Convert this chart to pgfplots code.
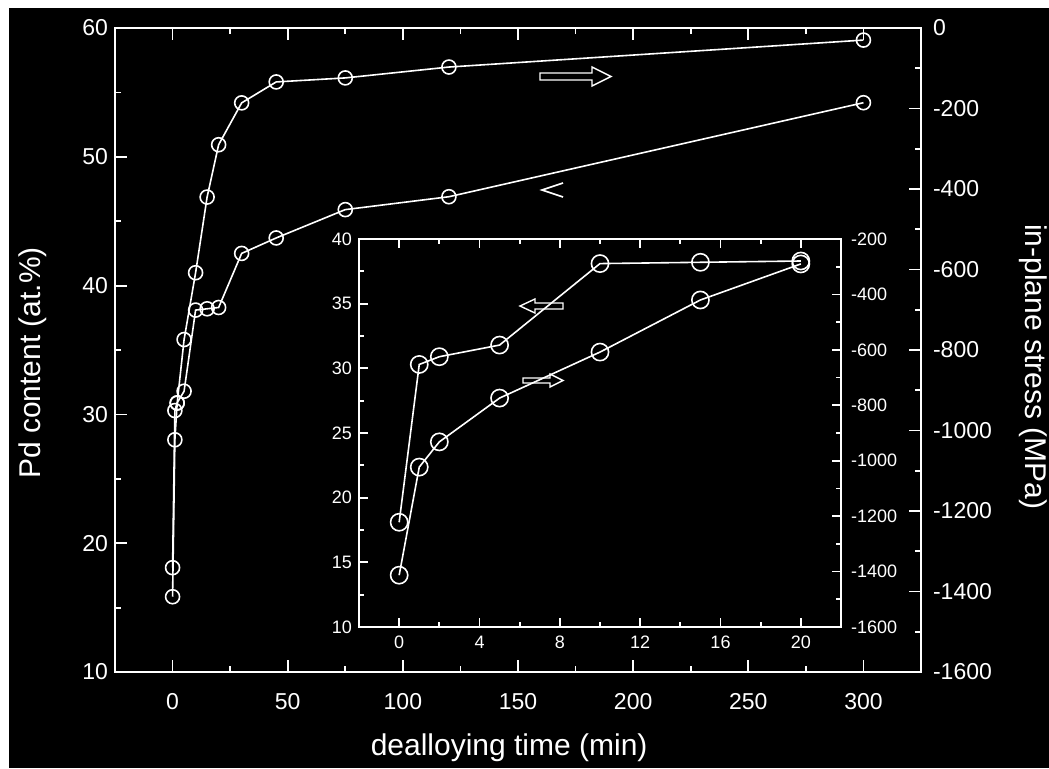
\documentclass[border=0pt]{standalone}
\usepackage{fontspec}
\setmainfont{Liberation Sans}
\usepackage{pgfplots}
\usepackage{pgfplotstable}
\pgfplotsset{compat=1.18}

\pgfplotstableread{
t pd s
0 18.1 -1413
1 30.3 -1023
2 30.9 -932
5 31.8 -774
10 38.1 -608
15 38.2 -420
20 38.3 -290
30 42.5 -186
45 43.7 -134
75 45.9 -124
120 46.9 -97
300 54.2 -30
}\maindata

\pgfplotstableread{
t pd s
0 18.1 -1413
1 30.3 -1023
2 30.9 -932
5 31.8 -774
10 38.1 -608
15 38.2 -420
20 38.3 -290
}\insetdata

\pgfplotsset{
  base/.style={
    scale only axis,
    axis line style={white, line width=1.3pt},
    tick style={white, line width=0.9pt},
    tick align=inside,
    every tick label/.append style={text=white},
    every axis label/.append style={text=white},
    /pgf/number format/assume math mode=true,
    /pgf/number format/1000 sep={},
  },
  ser/.style={white, line width=0.8pt, mark=o, mark options={solid, fill=black, line width=0.8pt}},
}

\begin{document}
\begin{tikzpicture}
\path[use as bounding box] (0,0) rectangle (524.5pt,384pt);
\fill[white] (0,0) rectangle (524.5pt,384pt);
\fill[black] (4.5pt,0) rectangle (524.5pt,380pt);

% main axis, left y
\begin{axis}[base,
  at={(57.5pt,48pt)}, anchor=south west,
  width=403pt, height=322pt,
  xmin=-25, xmax=325, ymin=10, ymax=60,
  xtick={0,50,...,300}, minor x tick num=1,
  ytick={10,20,...,60}, minor y tick num=1,
  xtick pos=both, ytick pos=left,
  major tick length=6pt, minor tick length=3pt,
  tick label style={font=\fontsize{11.5}{13}\selectfont},
  label style={font=\fontsize{15}{17}\selectfont},
  xticklabel shift=7pt,
  xlabel={dealloying time (min)},
  xlabel style={at={(ticklabel cs:0.489)}},
  xlabel shift=5.5pt,
  ylabel={Pd content (at.\%)},
  ylabel style={at={(ticklabel cs:0.48)}},
  ylabel shift=11pt,
]
\addplot[ser, mark size=3.5pt] table[x=t, y=pd] {\maindata};
\end{axis}

% main axis, right y
\begin{axis}[base,
  at={(57.5pt,48pt)}, anchor=south west,
  width=403pt, height=322pt,
  xmin=-25, xmax=325, ymin=-1600, ymax=0,
  axis x line=none, axis y line*=right,
  ytick={-1600,-1400,...,0}, minor y tick num=1,
  major tick length=6pt, minor tick length=3pt,
  tick label style={font=\fontsize{11.5}{13}\selectfont},
  yticklabel shift=2.5pt,
  label style={font=\fontsize{15}{17}\selectfont},
  ylabel={in-plane stress (MPa)},
  ylabel style={rotate=180, at={(ticklabel cs:0.474)}},
  ylabel shift=7pt,
]
\addplot[ser, mark size=3.5pt] table[x=t, y=s] {\maindata};
\end{axis}

% inset, left y
\begin{axis}[base,
  at={(179.5pt,70.5pt)}, anchor=south west,
  width=241pt, height=194pt,
  axis background/.style={fill=black},
  axis line style={white, line width=1pt},
  xmin=-2, xmax=22, ymin=10, ymax=40,
  xtick={0,4,...,20}, minor x tick num=1,
  ytick={10,15,...,40}, minor y tick num=1,
  xtick pos=both, ytick pos=left,
  major tick length=4.5pt, minor tick length=2.5pt,
  tick label style={font=\fontsize{9}{10}\selectfont},
  xticklabel shift=1pt,
]
\addplot[ser, mark size=4.3pt] table[x=t, y=pd] {\insetdata};
\end{axis}

% inset, right y
\begin{axis}[base,
  at={(179.5pt,70.5pt)}, anchor=south west,
  width=241pt, height=194pt,
  axis line style={white, line width=1pt},
  xmin=-2, xmax=22, ymin=-1600, ymax=-200,
  axis x line=none, axis y line*=right,
  ytick={-1600,-1400,...,-200}, minor y tick num=1,
  major tick length=4.5pt, minor tick length=2.5pt,
  tick label style={font=\fontsize{9}{10}\selectfont},
  yticklabel shift=1.5pt,
]
\addplot[ser, mark size=4.3pt] table[x=t, y=s] {\insetdata};
\end{axis}

% direction arrows
\draw[white, line width=0.7pt] (270pt,347.5pt) -- (296pt,347.5pt) -- (296pt,350.5pt) -- (305.5pt,345.75pt) -- (296pt,341pt) -- (296pt,344pt) -- (270pt,344pt) -- cycle;
\draw[white, line width=0.8pt] (281.5pt,292.5pt) -- (271pt,289pt) -- (281.5pt,285.5pt);
\draw[white, line width=0.7pt] (260pt,231pt) -- (267.5pt,234.5pt) -- (267.5pt,232.5pt) -- (281.5pt,232.5pt) -- (281.5pt,229.5pt) -- (267.5pt,229.5pt) -- (267.5pt,227.5pt) -- cycle;
\draw[white, line width=0.7pt] (261.5pt,195pt) -- (275pt,195pt) -- (275pt,197pt) -- (281.5pt,193.75pt) -- (275pt,190.5pt) -- (275pt,192.5pt) -- (261.5pt,192.5pt) -- cycle;
\end{tikzpicture}
\end{document}
